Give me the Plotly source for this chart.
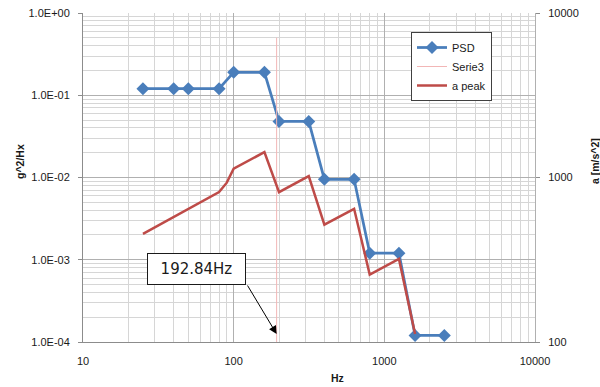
import math
import plotly.graph_objects as go

# PSD breakpoints (left axis, g^2/Hz)
freq_psd = [25, 40, 50, 80, 100, 160, 200, 315, 400, 630, 800, 1250, 1600, 2500]
psd = [0.12, 0.12, 0.12, 0.12, 0.19, 0.19, 0.048, 0.048,
       0.0095, 0.0095, 0.0012, 0.0012, 0.00012, 0.00012]

# Peak acceleration (right axis, m/s^2)
freq_peak = [25, 40, 50, 80, 90, 100, 160, 200, 315, 400, 630, 800, 1250, 1600]
a_peak = [454, 574, 642, 815, 930, 1130, 1428, 815, 1020, 517, 645, 257, 320, 112]

# Marker line at the resonance frequency
marker_freq = [192.84, 192.84]
marker_level = [0.5, 0.0001]
marker_label = "192.84Hz"

# Axis ticks
x_ticks = [10, 100, 1000, 10000]
x_ticktext = ["10", "100", "1000", "10000"]
y_ticks = [1, 0.1, 0.01, 0.001, 0.0001]
y_ticktext = ["1.0E+00", "1.0E-01", "1.0E-02", "1.0E-03", "1.0E-04"]
y2_ticks = [100, 1000, 10000]
y2_ticktext = ["100", "1000", "10000"]

FONT = "Liberation Sans, Arial, sans-serif"
BLUE = "#4a7ebb"
RED = "#be4b48"
PINK = "#f2b6b6"


def minor_vals(lo_exp, hi_exp):
    return [d * 10 ** e for e in range(lo_exp, hi_exp) for d in range(2, 10)]


W, H = 600, 387
L, R, T, B = 83, 65, 13, 45
PW, PH = W - L - R, H - T - B


def px(x):
    return (x - L) / PW


def py(y):
    return (H - B - y) / PH


fig = go.Figure()

fig.add_trace(go.Scatter(
    x=freq_psd, y=psd, name="PSD", mode="lines+markers",
    line=dict(color=BLUE, width=2.75),
    marker=dict(symbol="diamond", size=10, color=BLUE),
))
fig.add_trace(go.Scatter(
    x=marker_freq, y=marker_level, name="Serie3", mode="lines",
    line=dict(color=PINK, width=1),
))
fig.add_trace(go.Scatter(
    x=freq_peak, y=a_peak, name="a peak", mode="lines", yaxis="y2",
    line=dict(color=RED, width=2.5),
))

grid_major = "#b0b0b0"
grid_minor = "#d6d6d6"

fig.update_layout(
    width=W, height=H,
    margin=dict(l=L, r=R, t=T, b=B, autoexpand=False),
    paper_bgcolor="white", plot_bgcolor="white",
    font=dict(family=FONT, size=11, color="#1a1a1a"),
    xaxis=dict(
        type="log", range=[1, 4], automargin=False,
        tickvals=x_ticks, ticktext=x_ticktext,
        showgrid=True, gridcolor=grid_major, gridwidth=1,
        minor=dict(tickvals=minor_vals(1, 4), showgrid=True,
                   gridcolor=grid_minor, gridwidth=1),
        showline=True, linecolor="#8c8c8c", linewidth=1,
        ticks="", ticklabelstandoff=9,
        zeroline=False,
    ),
    yaxis=dict(
        type="log", range=[-4, 0], automargin=False,
        tickvals=y_ticks, ticktext=y_ticktext,
        showgrid=True, gridcolor=grid_major, gridwidth=1,
        minor=dict(tickvals=minor_vals(-4, 0), showgrid=True,
                   gridcolor=grid_minor, gridwidth=1),
        showline=True, linecolor="#8c8c8c", linewidth=1,
        ticks="outside", ticklen=4, tickcolor="#8c8c8c",
        ticklabelstandoff=6,
        zeroline=False,
    ),
    yaxis2=dict(
        type="log", range=[2, 4], overlaying="y", side="right", automargin=False,
        tickvals=y2_ticks, ticktext=y2_ticktext,
        showgrid=False,
        showline=True, linecolor="#b0b0b0", linewidth=1,
        ticks="outside", ticklen=4, tickcolor="#8c8c8c",
        ticklabelstandoff=6,
        zeroline=False,
    ),
    showlegend=True,
    legend=dict(
        x=px(411), y=py(32), xanchor="left", yanchor="top",
        bgcolor="white", bordercolor="#404040", borderwidth=1,
        font=dict(family=FONT, size=11, color="#1a1a1a"),
        tracegroupgap=0,
    ),
)

title_font = dict(family=FONT, size=10.5, color="#1a1a1a", weight="bold")
annotations = [
    dict(text="Hz", x=px(337), y=py(378), xref="paper", yref="paper",
         xanchor="center", yanchor="middle",
         showarrow=False, font=title_font),
    dict(text="g^2/Hx", x=px(20), y=py(162), xref="paper", yref="paper",
         xanchor="center", yanchor="middle",
         showarrow=False, textangle=-90, font=title_font),
    dict(text="a [m/s^2]", x=px(595), y=py(161), xref="paper", yref="paper",
         xanchor="center", yanchor="middle",
         showarrow=False, textangle=-90, font=title_font),
    dict(text=marker_label, x=px(196.6), y=py(268.5), xref="paper", yref="paper",
         xanchor="center", yanchor="middle",
         showarrow=False, width=97, height=30, borderpad=0,
         bordercolor="#1a1a1a", borderwidth=1, bgcolor="white",
         font=dict(family="DejaVu Sans, Verdana, sans-serif", size=15, color="#1a1a1a")),
    dict(text="", x=math.log10(marker_freq[0]), y=math.log10(1.25e-4),
         xref="x", yref="y", showarrow=True, ax=-30, ay=-50,
         arrowhead=2, arrowsize=1.6, arrowwidth=1, arrowcolor="#000000"),
]
fig.update_layout(annotations=annotations)

fig.write_html("out.html")
